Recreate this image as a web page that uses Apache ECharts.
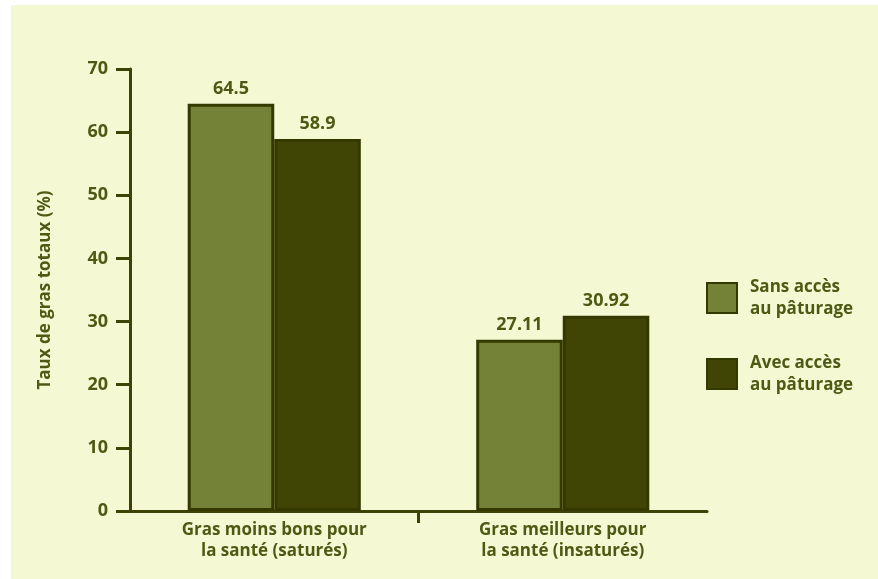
<!DOCTYPE html>
<html>
<head>
<meta charset="utf-8">
<script src="https://cdn.jsdelivr.net/npm/echarts@6/dist/echarts.min.js"></script>
<style>
html,body{margin:0;padding:0;background:#ffffff;}
#chart{width:878px;height:579px;}
</style>
</head>
<body>
<div id="chart"></div>
<script>
const categories = ["Gras moins bons pour\nla santé (saturés)", "Gras meilleurs pour\nla santé (insaturés)"];
const seriesNames = ["Sans accès\nau pâturage", "Avec accès\nau pâturage"];
const sansAcces = [64.5, 27.11];
const avecAcces = [58.9, 30.92];
const yTicks = [0, 10, 20, 30, 40, 50, 60, 70];
const labelText = ["64.5", "27.11", "58.9", "30.92"];

const textColor = "#4e5a14";
const axisColor = "#3d4206";
const borderColor = "#343900";
const font = "Open Sans";

const chart = echarts.init(document.getElementById('chart'), null, {renderer: 'canvas'});
chart.setOption({
  animation: false,
  backgroundColor: '#ffffff',
  graphic: [{
    type: 'rect', z: -10, silent: true,
    shape: {x: 11, y: 5, width: 867, height: 574},
    style: {fill: '#f4f9d4'}
  }],
  grid: {left: 130, right: 171, top: 69, bottom: 68, containLabel: false},
  legend: {
    orient: 'vertical',
    left: 706, top: 276,
    padding: 0,
    itemWidth: 30, itemHeight: 30,
    itemGap: 32,
    icon: 'rect',
    data: seriesNames,
    textStyle: {
      color: textColor, fontFamily: font, fontWeight: 'bold', fontSize: 17,
      lineHeight: 22, padding: [0, 0, 0, 8]
    }
  },
  xAxis: [{
    type: 'category',
    data: categories,
    axisLine: {lineStyle: {color: axisColor, width: 3}},
    axisTick: {show: false},
    axisLabel: {color: textColor, fontFamily: font, fontWeight: 'bold', fontSize: 17, lineHeight: 21, margin: 9}
  }, {
    type: 'value',
    position: 'bottom',
    min: 0, max: 2, interval: 1,
    axisLine: {show: false},
    axisLabel: {show: false},
    splitLine: {show: false},
    axisTick: {show: true, length: 12, customValues: [1], lineStyle: {color: axisColor, width: 3}}
  }],
  yAxis: {
    type: 'value',
    min: yTicks[0], max: yTicks[yTicks.length - 1], interval: 10,
    name: 'Taux de gras totaux (%)',
    nameLocation: 'middle',
    nameGap: 76,
    nameTextStyle: {color: textColor, fontFamily: font, fontWeight: 'bold', fontSize: 17},
    axisLine: {show: true, lineStyle: {color: axisColor, width: 3}},
    axisTick: {show: true, length: 14, lineStyle: {color: axisColor, width: 3}},
    splitLine: {show: false},
    axisLabel: {color: textColor, fontFamily: font, fontWeight: 'bold', fontSize: 18, margin: 22}
  },
  series: [{
    name: seriesNames[0],
    type: 'bar',
    data: sansAcces,
    barGap: '0%',
    barCategoryGap: '40%',
    itemStyle: {color: '#748237', borderColor: borderColor, borderWidth: 3},
    label: {show: true, position: 'top', distance: 6, color: textColor, fontFamily: font, fontWeight: 'bold', fontSize: 18,
      formatter: p => labelText[p.dataIndex]}
  }, {
    name: seriesNames[1],
    type: 'bar',
    data: avecAcces,
    itemStyle: {color: '#404505', borderColor: borderColor, borderWidth: 3},
    label: {show: true, position: 'top', distance: 6, color: textColor, fontFamily: font, fontWeight: 'bold', fontSize: 18,
      formatter: p => labelText[2 + p.dataIndex]}
  }]
});
</script>
</body>
</html>
